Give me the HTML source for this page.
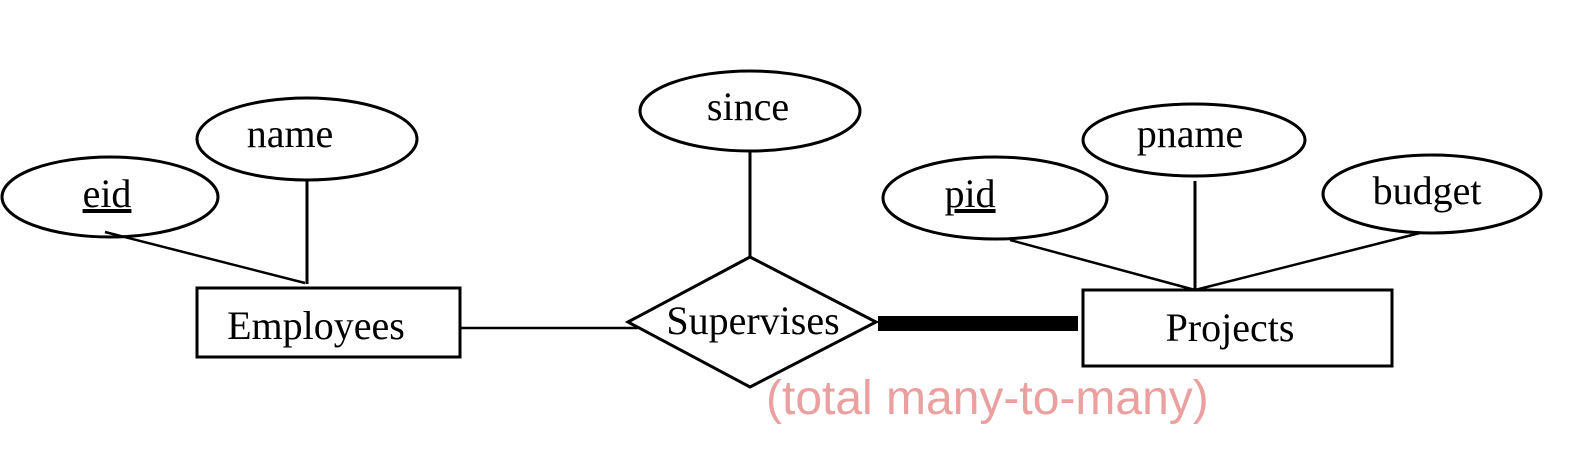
<!DOCTYPE html>
<html><head><style>body{margin:0;background:#fff}svg{display:block}</style></head><body>
<svg width="1595" height="453" viewBox="0 0 1595 453" xmlns="http://www.w3.org/2000/svg">
<g fill="none" stroke="#000" stroke-width="3">
<ellipse cx="110" cy="197" rx="108" ry="40"/>
<ellipse cx="307" cy="139" rx="110" ry="41"/>
<ellipse cx="750" cy="111" rx="110" ry="40"/>
<ellipse cx="995" cy="198" rx="112" ry="41"/>
<ellipse cx="1194" cy="140" rx="111" ry="36"/>
<ellipse cx="1432" cy="194" rx="109" ry="39"/>
<rect x="197" y="288" width="263" height="69"/>
<rect x="1083" y="290" width="309" height="76"/>
<polygon points="628,322 750,257 876,322 750,387"/>
<line x1="307" y1="180" x2="307" y2="284"/>
<line x1="750" y1="151" x2="750" y2="257"/>
<line x1="1195" y1="181" x2="1195" y2="290"/>
</g>
<g stroke="#000" stroke-width="2.5">
<line x1="105" y1="232" x2="305" y2="283"/>
<line x1="460" y1="328" x2="638" y2="328"/>
<line x1="1010" y1="240" x2="1195" y2="290"/>
<line x1="1420" y1="233" x2="1195" y2="290"/>
</g>
<rect x="878" y="316" width="200" height="15" fill="#000"/>
<g font-family="Liberation Serif, serif" font-size="40" fill="#000" text-anchor="middle">
<text x="107" y="207" text-decoration="underline">eid</text>
<text x="290" y="147">name</text>
<text x="748" y="120">since</text>
<text x="970" y="207" text-decoration="underline">pid</text>
<text x="1190" y="147">pname</text>
<text x="1427" y="204">budget</text>
<text x="316" y="339">Employees</text>
<text x="753" y="334">Supervises</text>
<text x="1230" y="341">Projects</text>
</g>
<text x="766" y="414" font-family="Liberation Sans, sans-serif" font-size="48" fill="#eba0a0">(total many-to-many)</text>
</svg>
</body></html>
